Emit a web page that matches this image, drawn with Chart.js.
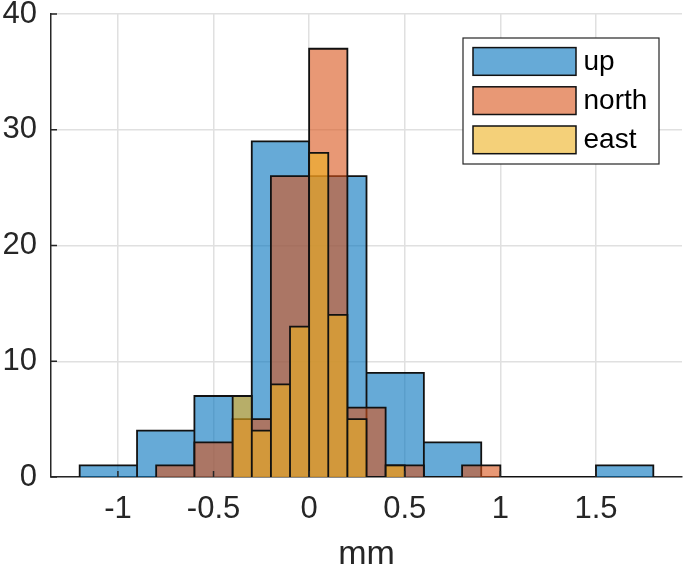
<!DOCTYPE html>
<html>
<head>
<meta charset="utf-8">
<script src="https://cdn.jsdelivr.net/npm/chart.js@4.4.1/dist/chart.umd.min.js"></script>
<style>
  html, body { margin: 0; padding: 0; background: #fff; }
  #wrap { width: 685px; height: 572px; }
</style>
</head>
<body>
<div id="wrap"><canvas id="histChart" width="685" height="572"></canvas></div>
<script>
// --- Data ---
const seriesNames = ['up', 'north', 'east'];

// histogram bins: first edge, bin width, counts per bin
const upStart = -1.2, upWidth = 0.3;
const upCounts = [1, 4, 7, 29, 26, 9, 3, 0, 0, 1];

const northStart = -0.8, northWidth = 0.2;
const northCounts = [1, 3, 5, 26, 37, 6, 1, 0, 1];

const eastStart = -0.4, eastWidth = 0.1;
const eastCounts = [7, 4, 8, 13, 28, 14, 5, 0, 1];

const xTicks = [-1, -0.5, 0, 0.5, 1, 1.5];
const yTicks = [0, 10, 20, 30, 40];
const xLabel = 'mm';

// --- Styles ---
const faceColors = ['rgba(0,114,189,0.6)', 'rgba(217,83,25,0.6)', 'rgba(237,177,32,0.6)'];
const edgeColor = '#111';
const axisColor = '#262626';
const gridColor = '#e0e0e0';
const fontFamily = '"Liberation Sans", Arial, Helvetica, sans-serif';

// outline of every bar, left to right, so the fill and edges follow the bins
function histPath(start, width, counts) {
    const pts = [];
    counts.forEach((c, i) => {
        const a = start + i * width;
        const b = start + (i + 1) * width;
        pts.push({ x: a, y: 0 }, { x: a, y: c }, { x: b, y: c }, { x: b, y: 0 });
    });
    return pts;
}

const paths = [
    histPath(upStart, upWidth, upCounts),
    histPath(northStart, northWidth, northCounts),
    histPath(eastStart, eastWidth, eastCounts)
];

// --- Plugins ---
// inward tick marks, like matlab axes
const innerTicks = {
    id: 'innerTicks',
    afterDatasetsDraw(chart) {
        const { ctx, chartArea, scales } = chart;
        ctx.save();
        ctx.strokeStyle = axisColor;
        ctx.lineWidth = 1.5;
        ctx.beginPath();
        xTicks.forEach(v => {
            const px = scales.x.getPixelForValue(v);
            ctx.moveTo(px, chartArea.bottom);
            ctx.lineTo(px, chartArea.bottom - 6);
        });
        yTicks.forEach(v => {
            const py = scales.y.getPixelForValue(v);
            ctx.moveTo(chartArea.left, py);
            ctx.lineTo(chartArea.left + 6, py);
        });
        ctx.stroke();
        ctx.restore();
    }
};

// boxed legend in the upper right corner of the axes
const legendBox = {
    id: 'legendBox',
    afterDraw(chart) {
        const { ctx, chartArea } = chart;
        const w = 196, h = 126;
        const x0 = chartArea.right - 23 - w;
        const y0 = chartArea.top + 24;
        ctx.save();
        ctx.fillStyle = '#fff';
        ctx.fillRect(x0, y0, w, h);
        ctx.strokeStyle = axisColor;
        ctx.lineWidth = 1.2;
        ctx.strokeRect(x0, y0, w, h);

        ctx.font = '28px ' + fontFamily;
        ctx.textBaseline = 'middle';
        ctx.textAlign = 'left';
        seriesNames.forEach((name, i) => {
            const sy = y0 + 9.6 + i * 39.2;
            ctx.fillStyle = faceColors[i];
            ctx.fillRect(x0 + 10, sy, 103, 27.7);
            ctx.strokeStyle = edgeColor;
            ctx.lineWidth = 1.5;
            ctx.strokeRect(x0 + 10, sy, 103, 27.7);
            ctx.fillStyle = '#000';
            ctx.fillText(name, x0 + 120.5, sy + 14.5);
        });
        ctx.restore();
    }
};

// --- Chart ---
const ctx = document.getElementById('histChart').getContext('2d');

new Chart(ctx, {
    type: 'line',
    data: {
        datasets: seriesNames.map((name, i) => ({
            label: name,
            data: paths[i],
            backgroundColor: faceColors[i],
            borderColor: edgeColor,
            borderWidth: 1.8,
            borderJoinStyle: 'miter',
            fill: 'origin',
            tension: 0,
            pointRadius: 0,
            order: 3 - i
        }))
    },
    options: {
        responsive: false,
        animation: false,
        events: [],
        layout: { padding: { top: 14, right: 3, left: 0, bottom: 0 } },
        plugins: {
            legend: { display: false },
            tooltip: { enabled: false }
        },
        scales: {
            x: {
                type: 'linear',
                min: -1.35,
                max: 1.95,
                afterBuildTicks: (scale) => { scale.ticks = xTicks.map(v => ({ value: v })); },
                afterFit: (scale) => { scale.height = 95; scale.paddingLeft = 0; scale.paddingRight = 0; },
                ticks: {
                    color: axisColor,
                    font: { family: fontFamily, size: 31 },
                    padding: 14,
                    maxRotation: 0,
                    autoSkip: false,
                    callback: (v) => String(v)
                },
                grid: { color: gridColor, lineWidth: 1.5, drawTicks: false },
                border: { display: true, color: axisColor, width: 1.5 },
                title: {
                    display: true,
                    text: xLabel,
                    color: axisColor,
                    font: { family: fontFamily, size: 34, lineHeight: 1 },
                    padding: { top: 0, bottom: 0 }
                }
            },
            y: {
                min: 0,
                max: 40,
                afterBuildTicks: (scale) => { scale.ticks = yTicks.map(v => ({ value: v })); },
                afterFit: (scale) => { scale.width = 51; scale.paddingTop = 0; scale.paddingBottom = 0; },
                ticks: {
                    color: axisColor,
                    font: { family: fontFamily, size: 31 },
                    padding: 14,
                    callback: (v) => String(v)
                },
                grid: { color: gridColor, lineWidth: 1.5, drawTicks: false },
                border: { display: true, color: axisColor, width: 1.5 }
            }
        }
    },
    plugins: [innerTicks, legendBox]
});
</script>
</body>
</html>
